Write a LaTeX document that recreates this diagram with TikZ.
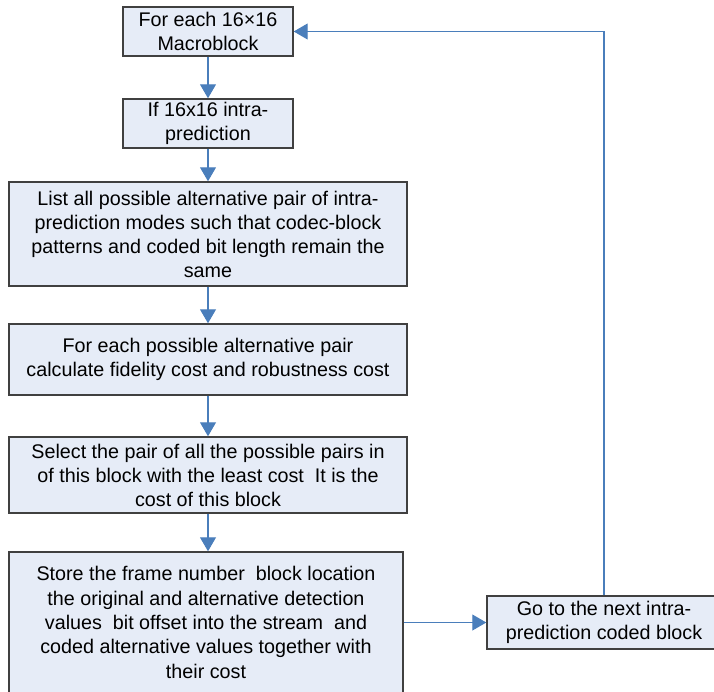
\documentclass[tikz,border=0pt]{standalone}
\usepackage{fontspec}
\setmainfont{Liberation Sans}
\usetikzlibrary{arrows.meta}

\definecolor{boxfill}{RGB}{230,236,247}
\definecolor{boxline}{RGB}{64,64,64}
\definecolor{arrowblue}{RGB}{74,126,187}

\tikzset{every picture/.style={line width=0.75pt}}
\tikzset{
  box/.style={draw=boxline, line width=1.1pt, fill=boxfill, align=center, inner sep=0.75pt,
    font=\fontsize{14.8}{18}\selectfont},
  flow/.style={draw=arrowblue, line width=0.8pt, -{Triangle[width=12pt,length=10.5pt]}}
}

\begin{document}
\begin{tikzpicture}[x=0.75pt,y=0.75pt,yscale=-1,xscale=1]
	\useasboundingbox (0,0) rectangle (714,692);
	%Shape: Rectangle [id:macroblock]
	\node [box, minimum width=127.5pt, minimum height=36.75pt] (macro) at (208,31.5) {For each 16×16\\Macroblock};
	%Shape: Rectangle [id:intra]
	\node [box, minimum width=127.5pt, minimum height=36.75pt] (intra) at (208,123.5) {If 16x16 intra-\\prediction};
	%Shape: Rectangle [id:listpairs]
	\node [box, minimum width=298.5pt, minimum height=78pt] (listpairs) at (208,234) {List all possible alternative pair of intra-\\prediction modes such that codec-block\\patterns and coded bit length remain the\\same};
	%Shape: Rectangle [id:costs]
	\node [box, minimum width=298.5pt, minimum height=53.25pt] (costs) at (208,359.5) {For each possible alternative pair\\calculate fidelity cost and robustness cost};
	%Shape: Rectangle [id:select]
	\node [box, minimum width=298.5pt, minimum height=57pt] (select) at (208,475) {Select the pair of all the possible pairs in\\of this block with the least cost\ \ It is the\\cost of this block};
	%Shape: Rectangle [id:store]
	\node [box, minimum width=295.5pt, minimum height=105.75pt, font=\fontsize{14.8}{18.3}\selectfont] (store) at (206,622.5) {Store the frame number\ \ block location\\the original and alternative detection\\values\ \ bit offset into the stream\ \ and\\coded alternative values together with\\their cost};
	%Shape: Rectangle [id:nextblock]
	\node [box, minimum width=175.5pt, minimum height=39.75pt] (nextblock) at (604,622.5) {Go to the next intra-\\prediction coded block};
	%Straight Lines
	\draw [flow] (macro) -- (intra);
	\draw [flow] (intra) -- (listpairs);
	\draw [flow] (listpairs) -- (costs);
	\draw [flow] (costs) -- (select);
	\draw [flow] (select) -- (select |- store.north);
	\draw [flow] (store) -- (nextblock);
	\draw [flow] (nextblock.north) |- (macro.east);
\end{tikzpicture}
\end{document}
